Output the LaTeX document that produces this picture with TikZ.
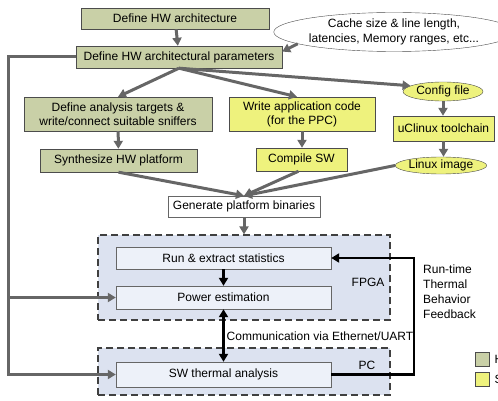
\documentclass[tikz,border=0pt]{standalone}
\usepackage{fontspec}
\setmainfont{Liberation Sans}
\usetikzlibrary{arrows.meta,shapes.geometric}
\definecolor{hwgreen}{HTML}{C9D0A7}
\definecolor{swyellow}{HTML}{EEF27D}
\definecolor{regfill}{HTML}{DCE2F0}
\definecolor{runfill}{HTML}{EDF1F9}
\tikzset{%
  hwbox/.style={draw=black!70,fill=hwgreen,align=center,inner sep=0},
  swbox/.style={draw=black!70,fill=swyellow,align=center,inner sep=0},
  swoval/.style={ellipse,draw=black!70,fill=swyellow,inner sep=0},
  runbox/.style={draw=black!60,fill=runfill,inner sep=0},
  region/.style={draw=black!75,fill=regfill,line width=1.2pt,dash pattern=on 7pt off 4pt,inner sep=0},
  gline/.style={draw=black!60,line width=3pt},
  gedge/.style={gline,-{Triangle[length=8pt,width=9pt]}},
  bedge/.style={draw=black,line width=2.6pt,line join=miter,-{Triangle[length=8pt,width=9pt]}}
}

\begin{document}
\begin{tikzpicture}[x=1pt,y=-1pt,font=\fontsize{12}{14}\selectfont]
    \useasboundingbox (0,0) rectangle (498,401);
    % processing regions
    \path
      (244,277.5) node (fpga)[region,minimum width=292,minimum height=85]{}
      (244,371.5) node (pc)[region,minimum width=292,minimum height=47]{};
    \path
      (175,18.5) node (hwarch)[hwbox,minimum width=188,minimum height=21]{Define HW architecture}
      (179,57) node (hwparams)[hwbox,minimum width=206,minimum height=22]{Define HW architectural parameters}
      (394,32) node (cache)[ellipse,draw=black!70,fill=white,minimum width=190,minimum height=39,inner sep=0,
        align=center,font=\fontsize{12}{15}\selectfont]{Cache size \& line length,\\latencies, Memory ranges, etc...}
      (118,114) node (analysis)[hwbox,minimum width=188,minimum height=34]{Define analysis targets \&\\write/connect suitable sniffers}
      (302,114) node (appcode)[swbox,minimum width=146,minimum height=34]{Write application code\\(for the PPC)}
      (443,91.5) node (config)[swoval,minimum width=80,minimum height=19]{Config file}
      (443.5,128.5) node (uclinux)[swbox,minimum width=101,minimum height=25]{uClinux toolchain}
      (441,165.5) node (linuximg)[swoval,minimum width=78,minimum height=17]{Linux image}
      (118.5,160.5) node (synth)[hwbox,minimum width=157,minimum height=23]{Synthesize HW platform}
      (301.5,159.5) node (compile)[swbox,minimum width=91,minimum height=23]{Compile SW}
      (244,206.5) node (genbin)[draw=black!60,fill=white,minimum width=152,minimum height=21,inner sep=0]{Generate platform binaries}
      (223.5,258) node (run)[runbox,minimum width=215,minimum height=22]{Run \& extract statistics}
      (223.5,297.5) node (power)[runbox,minimum width=215,minimum height=23]{Power estimation}
      (223.5,374.5) node (swtherm)[runbox,minimum width=215,minimum height=25]{SW thermal analysis};
    \node (fpgalbl) at (368,282) {FPGA};
    \node (pclbl) at (367,365) {PC};
    \node (commlbl) at (320,336) {Communication via Ethernet/UART};
    \node (fblbl)[anchor=north west,align=left,inner sep=0,font=\fontsize{12}{15}\selectfont] at (423,265)
      {Run-time\\Thermal\\Behavior\\Feedback};
    % legend
    \path
      (482,359) node (leghw)[draw=black!70,fill=hwgreen,minimum size=14,inner sep=0]{}
      (482,379) node (legsw)[draw=black!70,fill=swyellow,minimum size=14,inner sep=0]{};
    \begin{scope}
      \clip (0,0) rectangle (498,401);
      \node (leghwlbl)[anchor=west,inner sep=0] at (494.5,359) {HW};
      \node (legswlbl)[anchor=west,inner sep=0] at (494.5,379) {SW};
    \end{scope}
    % design flow
    \draw[gedge] (hwarch) -- (hwparams);
    \draw[gedge] (cache.187) -- (hwparams.3);
    \draw[gedge] (hwparams.south) -- (analysis.north);
    \draw[gedge] (hwparams.south) -- ([xshift=-5]appcode.north);
    \draw[gedge] (hwparams.south) -- (config.170);
    \draw[gedge] (analysis) -- (synth);
    \draw[gedge] (appcode.south) -- (appcode.south |- compile.north);
    \draw[gedge] (config) -- (config |- uclinux.north);
    \draw[gedge] (uclinux) -- (uclinux |- linuximg.north);
    \draw[gedge] (synth.south) -- (genbin.north);
    \draw[gedge] ([xshift=-3]compile.south) -- (genbin.north);
    \draw[gedge] (linuximg.west) -- (genbin.north);
    \draw[gedge] (genbin) -- (fpga.north);
    % parameters fed to estimation
    \coordinate (lcorner) at (8,57);
    \draw[gline,-{Triangle[length=8pt,width=9pt]}] (hwparams.west) -- (lcorner) |- (swtherm.west);
    \draw[gedge] (lcorner |- power.west) -- (power.west);
    % run-time loop
    \draw[bedge] (run) -- (power);
    \draw[bedge,{Triangle[length=8pt,width=9pt]}-{Triangle[length=8pt,width=9pt]}] (power) -- (swtherm);
    \coordinate (fbcorner) at (414,258);
    \draw[bedge] (swtherm.east) -| (fbcorner) -- (run.east);
\end{tikzpicture}
\end{document}
